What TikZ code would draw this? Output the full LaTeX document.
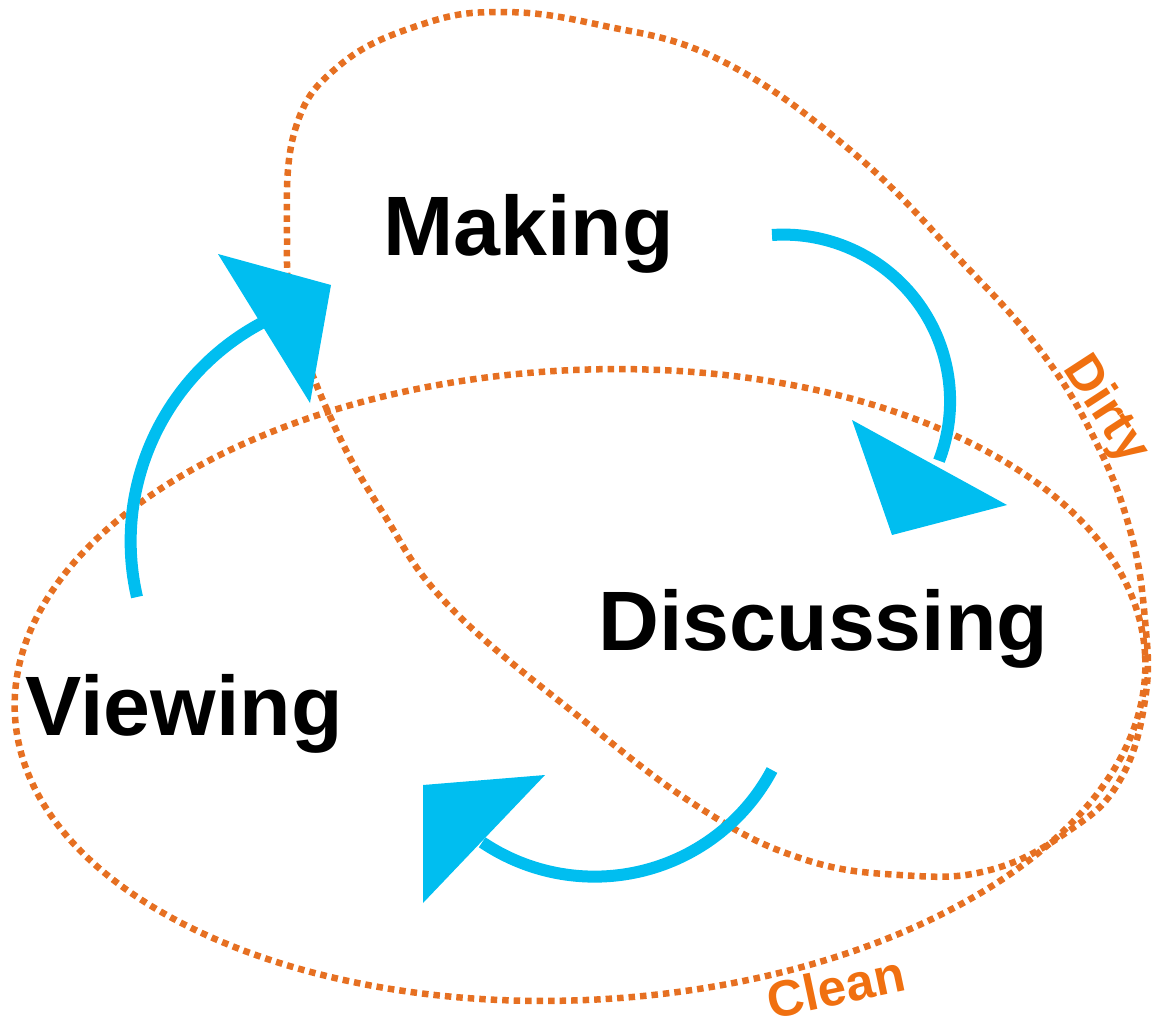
\documentclass[tikz,border=0pt]{standalone}
\usepackage{fontspec}
\setmainfont{Liberation Sans}

\definecolor{rust}{RGB}{230,112,34}
\definecolor{tagorange}{RGB}{240,112,16}
\definecolor{sky}{RGB}{0,190,240}

\tikzset{
  dotline/.style={rust,line width=0.13cm,dash pattern=on 0.13cm off 0.1cm},
  shaft/.style={sky,line width=0.24cm},
  head/.style={fill=sky,draw=none},
  word/.style={font=\fontsize{48}{56}\selectfont\bfseries,inner sep=0,anchor=base west},
  tag/.style={text=tagorange,font=\fontsize{29}{34}\selectfont\bfseries,inner sep=0},
}

\begin{document}
\begin{tikzpicture}[x=0.02cm,y=0.02cm]
  \useasboundingbox (0,0) rectangle (1152,-1021);

  % the two zones
  \draw[dotline,rotate around={3:(580,-685)}] (580,-685) ellipse [x radius=11.32cm,y radius=6.3cm];
  \draw[dotline] plot[smooth cycle,tension=0.7] coordinates {
    (287,-240) (295,-130) (340,-65) (420,-25) (500,-12) (600,-25) (720,-60)
    (850,-150) (960,-260) (1040,-350) (1095,-440) (1130,-530) (1145,-620)
    (1145,-700) (1120,-780) (1070,-830) (990,-870) (900,-875) (800,-858)
    (700,-808) (583,-720) (450,-607) (383,-513) (333,-423) (295,-320)};

  % the cycle
  \coordinate (mk-out) at (772,-235);
  \coordinate (ds-out) at (772,-770);
  \coordinate (vw-out) at (137,-597);
  \draw[shaft] (mk-out) arc[start angle=94,end angle=-21,radius=3.33cm];
  \fill[head] (852,-420) -- (1007,-505) -- (892,-535) -- cycle;
  \draw[shaft] (ds-out) arc[start angle=-28,end angle=-124,radius=4.02cm];
  \fill[head] (545,-775) -- (423,-785) -- (423,-903) -- cycle;
  \draw[shaft] (vw-out) arc[start angle=193,end angle=118,radius=4.95cm];
  \fill[head] (218,-254) -- (331,-285) -- (310,-403) -- cycle;

  % labels
  \node[word] (making) at (383,-255) {Making};
  \node[word] (discussing) at (598,-650) {Discussing};
  \node[word] (viewing) at (25,-735) {Viewing};
  \node[tag,rotate=-57] (dirty) at (1105,-410) {Dirty};
  \node[tag,rotate=12] (clean) at (836,-987) {Clean};
\end{tikzpicture}
\end{document}
